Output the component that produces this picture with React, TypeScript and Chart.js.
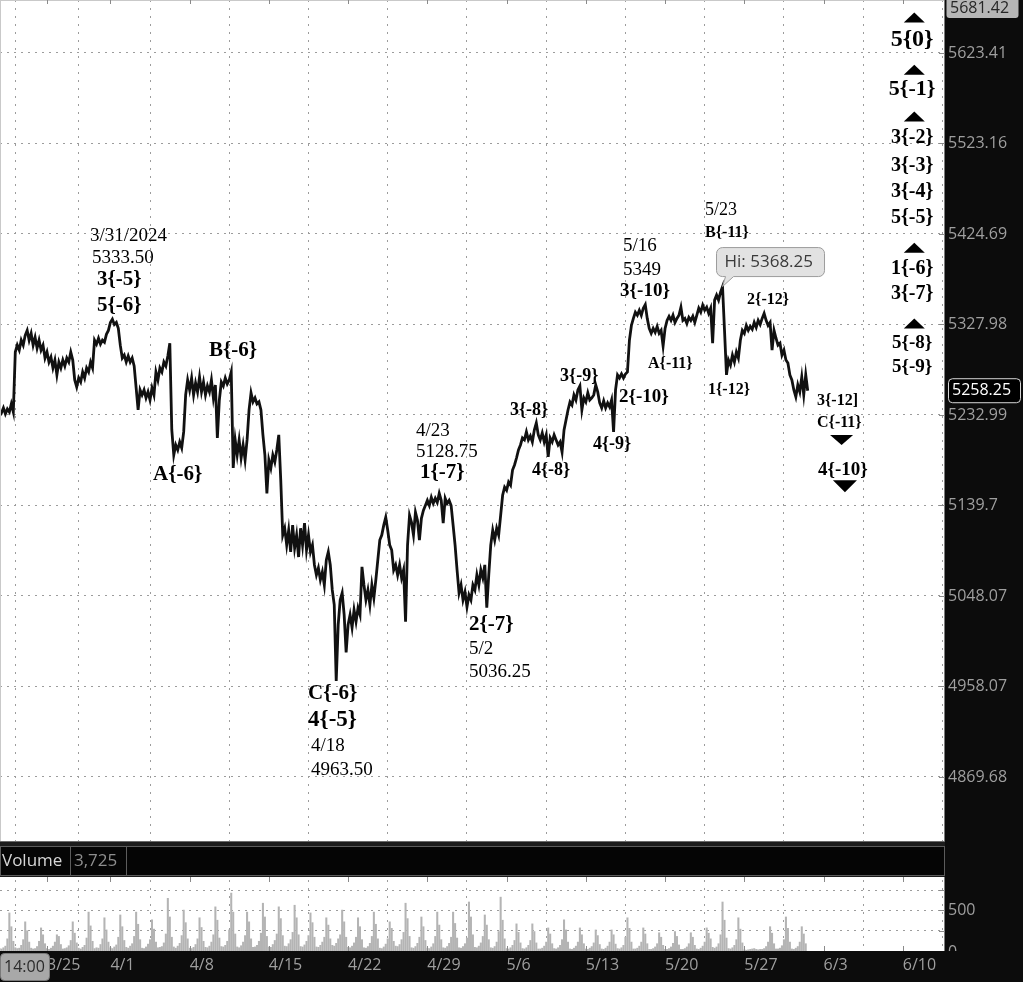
import React, { useEffect, useRef } from 'react';
import { Chart, registerables } from 'chart.js';

Chart.register(...registerables);
Chart.defaults.font.family = '"Open Sans", "DejaVu Sans", sans-serif';

// x axis unit: bar number (8 three-hour bars per session, bar 0 opens the 3/20 session)
const dateTickBars = [24, 56, 96, 136, 176, 216, 256, 296, 336, 376, 416, 456];
const dateTickLabels = ['3/25', '4/1', '4/8', '4/15', '4/22', '4/29', '5/6', '5/13', '5/20', '5/27', '6/3', '6/10'];
const xRange = [0.28, 477.3];

const priceTicks = [5623.41, 5523.16, 5424.69, 5327.98, 5232.99, 5139.7, 5048.07, 4958.07, 4869.68];
const priceTickLabels = ['5623.41', '5523.16', '5424.69', '5327.98', '5232.99', '5139.7', '5048.07', '4958.07', '4869.68'];
const priceRange = [4808.1, 5682.9];
const topPriceLabel = '5681.42';

const volumeTicks = [250, 500, 750];
const volumeRange = [0, 1358];
const volumeHeaderValue = '3,725';
const cursorTime = '14:00';

const closes = [
  5238.2, 5235.1, 5240.3, 5234.0, 5239.2, 5236.1, 5244.5, 5236.1,
  5298.8, 5306.1, 5300.9, 5311.3, 5306.1, 5316.5, 5321.7, 5311.3,
  5318.6, 5306.1, 5314.4, 5302.9, 5311.3, 5300.9, 5306.1, 5292.5,
  5298.8, 5288.3, 5293.5, 5282.1, 5290.4, 5274.8, 5288.3, 5282.1,
  5290.4, 5284.2, 5292.5, 5288.3, 5298.8, 5290.4, 5269.5, 5262.2,
  5271.6, 5267.4, 5277.9, 5271.6, 5282.1, 5277.9, 5288.3, 5282.1,
  5311.3, 5307.1, 5313.4, 5307.1, 5311.3, 5309.2, 5317.5, 5321.7,
  5330.1, 5333.5, 5328.0, 5330.1, 5323.8, 5306.1, 5292.5, 5295.6,
  5288.3, 5294.6, 5288.3, 5292.5, 5284.2, 5261.2, 5238.2, 5259.1,
  5253.9, 5259.1, 5250.7, 5257.0, 5248.6, 5261.2, 5253.9, 5277.9,
  5269.5, 5282.1, 5277.9, 5288.3, 5284.2, 5294.6, 5308.2, 5217.4,
  5191.5, 5201.9, 5196.7, 5205.0, 5198.8, 5215.4, 5253.9, 5269.5,
  5259.1, 5271.6, 5253.9, 5266.4, 5257.0, 5272.7, 5257.0, 5267.4,
  5253.9, 5263.3, 5257.0, 5269.5, 5250.7, 5264.3, 5209.1, 5248.6,
  5267.4, 5263.3, 5271.6, 5265.4, 5269.5, 5277.9, 5178.1, 5207.1,
  5191.5, 5207.1, 5188.4, 5201.9, 5186.4, 5207.1, 5238.2, 5256.0,
  5246.6, 5250.7, 5244.5, 5246.6, 5238.2, 5212.3, 5191.5, 5152.1,
  5186.4, 5178.1, 5191.5, 5184.3, 5196.7, 5212.3, 5165.6, 5109.5,
  5116.5, 5099.4, 5114.5, 5092.4, 5119.6, 5096.4, 5109.5, 5087.3,
  5116.5, 5099.4, 5121.6, 5094.4, 5109.5, 5092.4, 5099.4, 5079.3,
  5069.2, 5076.3, 5064.2, 5072.2, 5059.1, 5084.3, 5092.4, 5079.3,
  5054.1, 5039.2, 4963.5, 5019.4, 5044.1, 5051.1, 5029.3, 4991.7,
  5019.4, 5029.3, 5016.4, 5034.2, 5022.4, 5036.2, 5029.3, 5077.3,
  5059.1, 5044.1, 5054.1, 5039.2, 5059.1, 5046.1, 5064.2, 5084.3,
  5104.5, 5109.5, 5119.6, 5127.6, 5114.5, 5099.4, 5094.4, 5074.2,
  5079.3, 5069.2, 5079.3, 5066.2, 5074.2, 5022.4, 5099.4, 5129.6,
  5122.6, 5109.5, 5132.7, 5124.6, 5104.5, 5126.6, 5134.7, 5139.7,
  5144.9, 5139.7, 5148.0, 5141.8, 5147.0, 5142.8, 5152.1, 5144.9,
  5121.6, 5147.0, 5141.8, 5144.9, 5139.7, 5119.6, 5099.4, 5074.2,
  5051.1, 5059.1, 5044.1, 5052.1, 5037.2, 5049.1, 5044.1, 5059.1,
  5054.1, 5069.2, 5059.1, 5074.2, 5066.2, 5079.3, 5036.25, 5069.2,
  5099.4, 5114.5, 5104.5, 5116.5, 5109.5, 5129.6, 5150.1, 5158.4,
  5155.3, 5163.6, 5160.4, 5176.0, 5181.2, 5188.4, 5196.7, 5201.9,
  5209.1, 5207.1, 5215.4, 5207.1, 5211.2, 5205.0, 5217.4, 5224.7,
  5212.3, 5207.1, 5214.3, 5205.0, 5212.3, 5189.5, 5209.1, 5205.0,
  5212.3, 5207.1, 5201.9, 5205.0, 5194.6, 5217.4, 5227.8, 5238.2,
  5246.6, 5243.4, 5253.9, 5248.6, 5259.1, 5263.3, 5238.2, 5250.7,
  5246.6, 5256.0, 5248.6, 5250.7, 5253.9, 5264.3, 5257.0, 5245.5,
  5240.3, 5247.6, 5240.3, 5245.5, 5241.3, 5248.6, 5215.4, 5259.1,
  5274.8, 5271.6, 5275.8, 5271.6, 5275.8, 5277.9, 5311.3, 5326.9,
  5334.4, 5340.9, 5337.7, 5343.0, 5337.7, 5345.2, 5349.0, 5334.4,
  5323.8, 5318.6, 5323.8, 5319.6, 5325.9, 5318.6, 5321.7, 5305.0,
  5323.8, 5332.3, 5336.6, 5332.3, 5337.7, 5330.1, 5334.4, 5337.7,
  5346.3, 5332.3, 5334.4, 5329.0, 5335.5, 5332.3, 5336.6, 5330.1,
  5337.7, 5345.2, 5341.0, 5348.4, 5343.0, 5346.3, 5339.8, 5345.2,
  5308.2, 5353.8, 5359.1, 5353.8, 5362.4, 5368.25, 5321.7, 5274.8,
  5290.4, 5285.2, 5295.6, 5288.3, 5298.8, 5292.5, 5311.3, 5321.7,
  5318.6, 5326.9, 5321.7, 5325.9, 5322.8, 5330.1, 5324.8, 5332.3,
  5328.0, 5334.4, 5339.8, 5332.3, 5326.9, 5330.1, 5300.9, 5321.7,
  5313.4, 5306.1, 5308.2, 5295.6, 5300.9, 5290.4, 5287.3, 5274.8,
  5269.5, 5259.1, 5251.8, 5264.3, 5257.0, 5272.7, 5253.9, 5274.8,
  5258.25,
];

const volumes = [
  30, 25, 40, 60, 150, 470, 300, 120,
  40, 30, 35, 70, 140, 360, 250, 110,
  35, 25, 30, 55, 120, 285, 200, 90,
  30, 20, 35, 60, 110, 200, 180, 80,
  25, 30, 40, 65, 130, 360, 220, 100,
  35, 25, 45, 70, 160, 480, 310, 120,
  30, 40, 35, 80, 150, 410, 260, 110,
  40, 30, 50, 75, 170, 445, 300, 130,
  45, 35, 60, 90, 180, 480, 330, 140,
  35, 30, 50, 85, 140, 385, 270, 110,
  40, 45, 55, 100, 210, 650, 420, 170,
  50, 35, 60, 95, 190, 505, 350, 150,
  35, 30, 45, 80, 150, 410, 290, 120,
  45, 40, 60, 110, 200, 545, 380, 160,
  55, 50, 70, 120, 260, 715, 480, 210,
  50, 40, 65, 110, 190, 480, 360, 150,
  45, 50, 70, 120, 220, 590, 420, 180,
  50, 45, 80, 130, 210, 545, 400, 190,
  60, 55, 90, 140, 230, 565, 410, 200,
  55, 50, 75, 120, 190, 470, 350, 170,
  50, 45, 70, 110, 170, 410, 320, 150,
  70, 60, 95, 150, 200, 505, 360, 170,
  45, 40, 60, 100, 170, 410, 300, 140,
  40, 35, 55, 95, 180, 480, 330, 150,
  35, 30, 50, 85, 150, 360, 280, 120,
  60, 55, 80, 140, 230, 590, 400, 180,
  40, 35, 55, 95, 170, 420, 300, 130,
  35, 30, 50, 90, 180, 480, 320, 140,
  40, 35, 55, 95, 170, 480, 340, 160,
  40, 35, 55, 90, 160, 605, 420, 200,
  45, 40, 60, 100, 180, 445, 320, 140,
  40, 35, 55, 110, 240, 665, 380, 150,
  30, 25, 40, 70, 130, 335, 230, 100,
  30, 25, 40, 70, 130, 335, 240, 100,
  25, 25, 35, 60, 110, 285, 210, 90,
  30, 25, 40, 70, 140, 385, 260, 110,
  25, 20, 35, 60, 110, 285, 200, 90,
  25, 20, 35, 55, 100, 260, 190, 80,
  25, 20, 35, 60, 110, 260, 200, 85,
  30, 25, 40, 70, 170, 410, 280, 110,
  25, 25, 35, 60, 110, 285, 210, 90,
  20, 20, 30, 50, 90, 225, 170, 70,
  20, 20, 30, 50, 95, 240, 180, 75,
  20, 20, 30, 50, 90, 225, 170, 70,
  25, 20, 35, 60, 110, 285, 220, 150,
  45, 35, 50, 90, 200, 605, 380, 160,
  30, 25, 40, 70, 140, 410, 270, 100,
  15, 10, 15, 20, 25, 30, 20, 15,
  20, 20, 30, 55, 110, 300, 220, 90,
  25, 25, 35, 65, 140, 420, 280, 110,
  25, 20, 35, 55, 110, 300, 210, 90,
];

// [text, bar, price, kind]
const waveLabels: [string, number, number, string][] = [
  ['3/31/2024', 45.7, 5422.5, 'date'],
  ['5333.50', 46.7, 5398.9, 'date'],
  ['3{-5}', 49.2, 5375.3, 'wave'],
  ['5{-6}', 49.2, 5348.4, 'wave'],
  ['B{-6}', 105.8, 5300.8, 'wave'],
  ['A{-6}', 77.5, 5171.8, 'wave'],
  ['4/23', 210.3, 5216.4, 'date'],
  ['5128.75', 210.3, 5194.6, 'date'],
  ['1{-7}', 212.3, 5172.9, 'wave'],
  ['C{-6}', 155.8, 4951.2, 'wave'],
  ['4{-5}', 155.8, 4924.7, 'waveL'],
  ['4/18', 157.3, 4900.1, 'date'],
  ['4963.50', 157.3, 4876.6, 'date'],
  ['2{-7}', 237.0, 5019.4, 'wave'],
  ['5/2', 237.0, 4994.7, 'date'],
  ['5036.25', 237.0, 4971.9, 'date'],
  ['3{-8}', 257.7, 5238.2, 'waveM'],
  ['4{-8}', 268.8, 5176.0, 'waveM'],
  ['3{-9}', 283.0, 5273.7, 'waveM'],
  ['4{-9}', 299.6, 5202.9, 'waveM'],
  ['2{-10}', 312.7, 5251.8, 'waveN'],
  ['5/16', 314.8, 5411.8, 'date'],
  ['5349', 314.8, 5386.0, 'date'],
  ['3{-10}', 313.3, 5363.4, 'waveN'],
  ['A{-11}', 327.4, 5286.2, 'waveS'],
  ['5/23', 356.2, 5449.9, 'dateS'],
  ['B{-11}', 356.2, 5425.8, 'waveS'],
  ['2{-12}', 377.4, 5353.8, 'waveS'],
  ['1{-12}', 357.7, 5259.1, 'waveS'],
  ['3{-12]', 412.7, 5247.6, 'waveS'],
  ['C{-11}', 412.7, 5224.7, 'waveS'],
  ['4{-10}', 413.2, 5176.0, 'waveN'],
  ['5{0}', 460.7, 5637.7, 'col0'],
  ['5{-1}', 460.7, 5582.7, 'col1'],
  ['3{-2}', 460.7, 5529.8, 'col'],
  ['3{-3}', 460.7, 5499.1, 'col'],
  ['3{-4}', 460.7, 5470.6, 'col'],
  ['5{-5}', 460.7, 5442.2, 'col'],
  ['1{-6}', 460.7, 5387.1, 'col'],
  ['3{-7}', 460.7, 5360.2, 'col'],
  ['5{-8}', 460.7, 5308.2, 'colS'],
  ['5{-9}', 460.7, 5283.1, 'colS'],
];

// [bar, price] of marker centres
const upMarkers: [number, number][] = [
  [461.8, 5663.1], [461.8, 5604.7], [461.8, 5552.8], [461.8, 5409.7], [461.8, 5329.0],
];
const downMarkers: [number, number][] = [
  [425.1, 5207.1], [426.8, 5159.4],
];

const SERIF = '"Liberation Serif", "Times New Roman", serif';
const SANS = '"Open Sans", "DejaVu Sans", sans-serif';
const labelFonts: Record<string, string> = {
  date: `19px ${SERIF}`,
  dateS: `18px ${SERIF}`,
  wave: `bold 21px ${SERIF}`,
  waveL: `bold 23px ${SERIF}`,
  waveN: `bold 19px ${SERIF}`,
  waveM: `bold 18px ${SERIF}`,
  waveS: `bold 16px ${SERIF}`,
  col0: `bold 24px ${SERIF}`,
  col1: `bold 22px ${SERIF}`,
  col: `bold 20px ${SERIF}`,
  colS: `bold 19px ${SERIF}`,
};

const GRID = '#9c9c9c';
const AXIS_TEXT = '#9f9f9f';
const PANEL_BG = '#0c0c0c';

function rr(ctx: any, x: number, y: number, w: number, h: number, r: number) {
  ctx.beginPath();
  ctx.moveTo(x + r, y);
  ctx.lineTo(x + w - r, y);
  ctx.arcTo(x + w, y, x + w, y + r, r);
  ctx.lineTo(x + w, y + h - r);
  ctx.arcTo(x + w, y + h, x + w - r, y + h, r);
  ctx.lineTo(x + r, y + h);
  ctx.arcTo(x, y + h, x, y + h - r, r);
  ctx.lineTo(x, y + r);
  ctx.arcTo(x, y, x + r, y, r);
  ctx.closePath();
}

const zeroPad = (s: any) => {
  s.paddingTop = 0; s.paddingBottom = 0; s.paddingLeft = 0; s.paddingRight = 0;
};

const tosPlugin = {
  id: 'tosFrame',
  beforeDraw(chart: any) {
    const { ctx, chartArea: a, width, height } = chart;
    ctx.save();
    ctx.fillStyle = '#ffffff';
    ctx.fillRect(0, 0, width, height);
    ctx.fillStyle = PANEL_BG;
    ctx.fillRect(a.right, 0, width - a.right, height);
    ctx.fillRect(0, a.bottom, width, height - a.bottom);
    ctx.restore();
  },
  afterDatasetsDraw(chart: any) {
    const { ctx, chartArea: a, scales } = chart;
    const xs = scales.x, ys = scales.y, yv = scales.yv;
    ctx.save();

    // borders
    ctx.fillStyle = '#c9c9c9';
    ctx.fillRect(0, 0, a.right, 1);
    ctx.fillRect(0, 0, 1, ys.bottom);
    ctx.fillStyle = '#7c7c7c';
    ctx.fillRect(a.right - 1, 0, 1, a.bottom);

    // small solid tick marks
    ctx.strokeStyle = '#8a8a8a';
    ctx.lineWidth = 1;
    ctx.beginPath();
    for (const t of priceTicks) {
      const y = Math.round(ys.getPixelForValue(t)) + 0.5;
      ctx.moveTo(a.right - 6, y); ctx.lineTo(a.right, y);
    }
    for (const t of volumeTicks) {
      const y = Math.round(yv.getPixelForValue(t)) + 0.5;
      ctx.moveTo(a.right - 6, y); ctx.lineTo(a.right, y);
    }
    for (const b of dateTickBars) {
      const x = Math.round(xs.getPixelForValue(b)) + 0.5;
      ctx.moveTo(x, 0); ctx.lineTo(x, 4);
      ctx.moveTo(x, yv.top + 36); ctx.lineTo(x, yv.top + 41);
      ctx.moveTo(x, yv.bottom - 5); ctx.lineTo(x, yv.bottom);
    }
    ctx.stroke();

    // volume header bar
    const ht = yv.top;
    ctx.fillStyle = '#1c1c1c';
    ctx.fillRect(0, ht, a.right, 36);
    ctx.fillStyle = '#6a6a6a';
    ctx.fillRect(0, ht, a.right, 1);
    ctx.fillStyle = '#050505';
    ctx.fillRect(0, ht + 5, a.right, 30);
    ctx.strokeStyle = '#5c5c5c';
    ctx.strokeRect(0.5, ht + 5.5, a.right - 1, 29);
    ctx.beginPath();
    ctx.moveTo(70.5, ht + 6); ctx.lineTo(70.5, ht + 35);
    ctx.moveTo(126.5, ht + 6); ctx.lineTo(126.5, ht + 35);
    ctx.stroke();
    ctx.font = `17px ${SANS}`;
    ctx.textBaseline = 'middle';
    ctx.textAlign = 'left';
    ctx.fillStyle = '#d6d6d6';
    ctx.fillText('Volume', 2, ht + 20);
    ctx.fillStyle = '#8e8e8e';
    ctx.fillText(volumeHeaderValue, 74, ht + 20);

    // wave labels
    ctx.fillStyle = '#000';
    for (const [text, bar, price, kind] of waveLabels) {
      ctx.font = labelFonts[kind];
      ctx.textAlign = kind.startsWith('col') ? 'center' : 'left';
      ctx.textBaseline = 'middle';
      ctx.fillText(text, xs.getPixelForValue(bar), ys.getPixelForValue(price));
    }
    for (const [bar, price] of upMarkers) {
      const cx = xs.getPixelForValue(bar), cy = ys.getPixelForValue(price);
      ctx.beginPath();
      ctx.moveTo(cx, cy - 5); ctx.lineTo(cx + 10.5, cy + 5); ctx.lineTo(cx - 10.5, cy + 5);
      ctx.closePath(); ctx.fill();
    }
    downMarkers.forEach(([bar, price], k) => {
      const cx = xs.getPixelForValue(bar), cy = ys.getPixelForValue(price);
      const w = k === 0 ? 11.5 : 12, h = k === 0 ? 5 : 6;
      ctx.beginPath();
      ctx.moveTo(cx - w, cy - h); ctx.lineTo(cx + w, cy - h); ctx.lineTo(cx, cy + h);
      ctx.closePath(); ctx.fill();
    });

    // high bubble
    let hi = 0;
    closes.forEach((v, i) => { if (v > closes[hi]) hi = i; });
    const px = xs.getPixelForValue(hi), py = ys.getPixelForValue(closes[hi]);
    const L = px - 6, R = px + 102, T = py - 39, B = py - 10, r = 6;
    ctx.beginPath();
    ctx.moveTo(L + r, T); ctx.lineTo(R - r, T); ctx.arcTo(R, T, R, T + r, r);
    ctx.lineTo(R, B - r); ctx.arcTo(R, B, R - r, B, r);
    ctx.lineTo(px + 11, B); ctx.lineTo(px, py); ctx.lineTo(px + 3, B);
    ctx.lineTo(L + r, B); ctx.arcTo(L, B, L, B - r, r);
    ctx.lineTo(L, T + r); ctx.arcTo(L, T, L + r, T, r);
    ctx.closePath();
    ctx.fillStyle = '#e2e2e2'; ctx.fill();
    ctx.strokeStyle = '#9c9c9c'; ctx.lineWidth = 1; ctx.stroke();
    ctx.fillStyle = '#3a3a3a';
    ctx.font = `17px ${SANS}`;
    ctx.textAlign = 'left';
    ctx.textBaseline = 'middle';
    ctx.fillText('Hi: ' + closes[hi].toFixed(2), px + 2, py - 24);

    // price boxes on the axis
    ctx.font = `16px ${SANS}`;
    rr(ctx, a.right + 1.5, -4, 72, 22, 3);
    ctx.fillStyle = '#b6b6b6'; ctx.fill();
    ctx.fillStyle = '#262626';
    ctx.fillText(topPriceLabel, a.right + 5, 8);
    const last = closes[closes.length - 1];
    const ly = ys.getPixelForValue(last);
    rr(ctx, a.right + 3.5, ly - 12, 72, 24, 4);
    ctx.fillStyle = '#000'; ctx.fill();
    ctx.strokeStyle = '#d8d8d8'; ctx.stroke();
    ctx.fillStyle = '#ffffff';
    ctx.fillText(last.toFixed(2), a.right + 7, ly);
    ctx.restore();
  },
  afterDraw(chart: any) {
    const { ctx, chartArea: a, scales } = chart;
    ctx.save();
    // clipped zero label of the volume axis
    ctx.beginPath();
    ctx.rect(a.right, scales.yv.bottom - 12, 80, 12);
    ctx.clip();
    ctx.fillStyle = AXIS_TEXT;
    ctx.font = `16px ${SANS}`;
    ctx.textAlign = 'left';
    ctx.textBaseline = 'middle';
    ctx.fillText('0', a.right + 3, scales.yv.bottom + 1);
    ctx.restore();

    ctx.save();
    rr(ctx, 0.5, a.bottom + 2.5, 49, 27, 4);
    ctx.fillStyle = '#a8a8a8'; ctx.fill();
    ctx.strokeStyle = '#7a7a7a'; ctx.stroke();
    ctx.fillStyle = '#2b2b2b';
    ctx.font = `16px ${SANS}`;
    ctx.textAlign = 'left';
    ctx.textBaseline = 'middle';
    ctx.fillText(cursorTime, 4, a.bottom + 16);
    ctx.restore();
  },
};

export default function App() {
  const ref = useRef<HTMLCanvasElement>(null);
  useEffect(() => {
    const canvas = ref.current as HTMLCanvasElement;
    const chart = new Chart(canvas, {
      type: 'line',
      data: {
        datasets: [
          {
            type: 'line',
            label: 'Price',
            data: closes.map((v, i) => ({ x: i, y: v })),
            xAxisID: 'x',
            yAxisID: 'y',
            borderColor: '#111111',
            borderWidth: 2.8,
            pointRadius: 0,
            tension: 0,
            order: 1,
          } as any,
          {
            type: 'bar',
            label: 'Volume',
            data: volumes.map((v, i) => ({ x: i, y: v })),
            xAxisID: 'x',
            yAxisID: 'yv',
            backgroundColor: '#b4b4b4',
            barThickness: 1.4,
            order: 2,
          } as any,
        ],
      },
      options: {
        animation: false,
        responsive: false,
        maintainAspectRatio: false,
        events: [],
        layout: { padding: 0, autoPadding: false },
        plugins: { legend: { display: false }, tooltip: { enabled: false } },
        scales: {
          x: {
            type: 'linear',
            position: 'bottom',
            min: xRange[0],
            max: xRange[1],
            bounds: 'data',
            offset: false,
            afterBuildTicks: (s: any) => { s.ticks = dateTickBars.map((v) => ({ value: v })); },
            afterFit: (s: any) => { s.height = 31; zeroPad(s); },
            ticks: {
              autoSkip: false,
              maxRotation: 0,
              align: 'start',
              padding: 5,
              color: AXIS_TEXT,
              font: { size: 16 },
              callback: (v: any) => dateTickLabels[dateTickBars.indexOf(Number(v))] ?? '',
            },
            grid: { color: GRID, lineWidth: 1, drawTicks: false },
            border: { display: false, dash: [2, 6] },
          },
          y: {
            type: 'logarithmic',
            position: 'right',
            min: priceRange[0],
            max: priceRange[1],
            bounds: 'data',
            stack: 'tos',
            stackWeight: 841,
            weight: 1,
            afterBuildTicks: (s: any) => { s.ticks = priceTicks.map((v) => ({ value: v })); },
            afterFit: (s: any) => { s.width = 78; zeroPad(s); },
            ticks: {
              padding: 3,
              color: AXIS_TEXT,
              font: { size: 16 },
              callback: (_v: any, i: number) => priceTickLabels[i],
            },
            grid: { color: GRID, lineWidth: 1, drawTicks: false },
            border: { display: false, dash: [2, 5] },
          },
          yv: {
            type: 'linear',
            position: 'right',
            min: volumeRange[0],
            max: volumeRange[1],
            bounds: 'data',
            stack: 'tos',
            stackWeight: 110,
            weight: 2,
            afterBuildTicks: (s: any) => { s.ticks = volumeTicks.map((v) => ({ value: v })); },
            afterFit: (s: any) => { s.width = 78; zeroPad(s); },
            ticks: {
              padding: 3,
              color: AXIS_TEXT,
              font: { size: 16 },
              callback: (v: any) => (Number(v) === 500 ? '500' : ''),
            },
            grid: { color: GRID, lineWidth: 1, drawTicks: false },
            border: { display: false, dash: [2, 5] },
          },
        },
      } as any,
      plugins: [tosPlugin],
    });
    return () => chart.destroy();
  }, []);

  return (
    <div style={{ position: 'fixed', left: 0, top: 0, width: 1023, height: 982, background: '#fff' }}>
      <canvas ref={ref} width={1023} height={982} style={{ width: 1023, height: 982, display: 'block' }} />
    </div>
  );
}
